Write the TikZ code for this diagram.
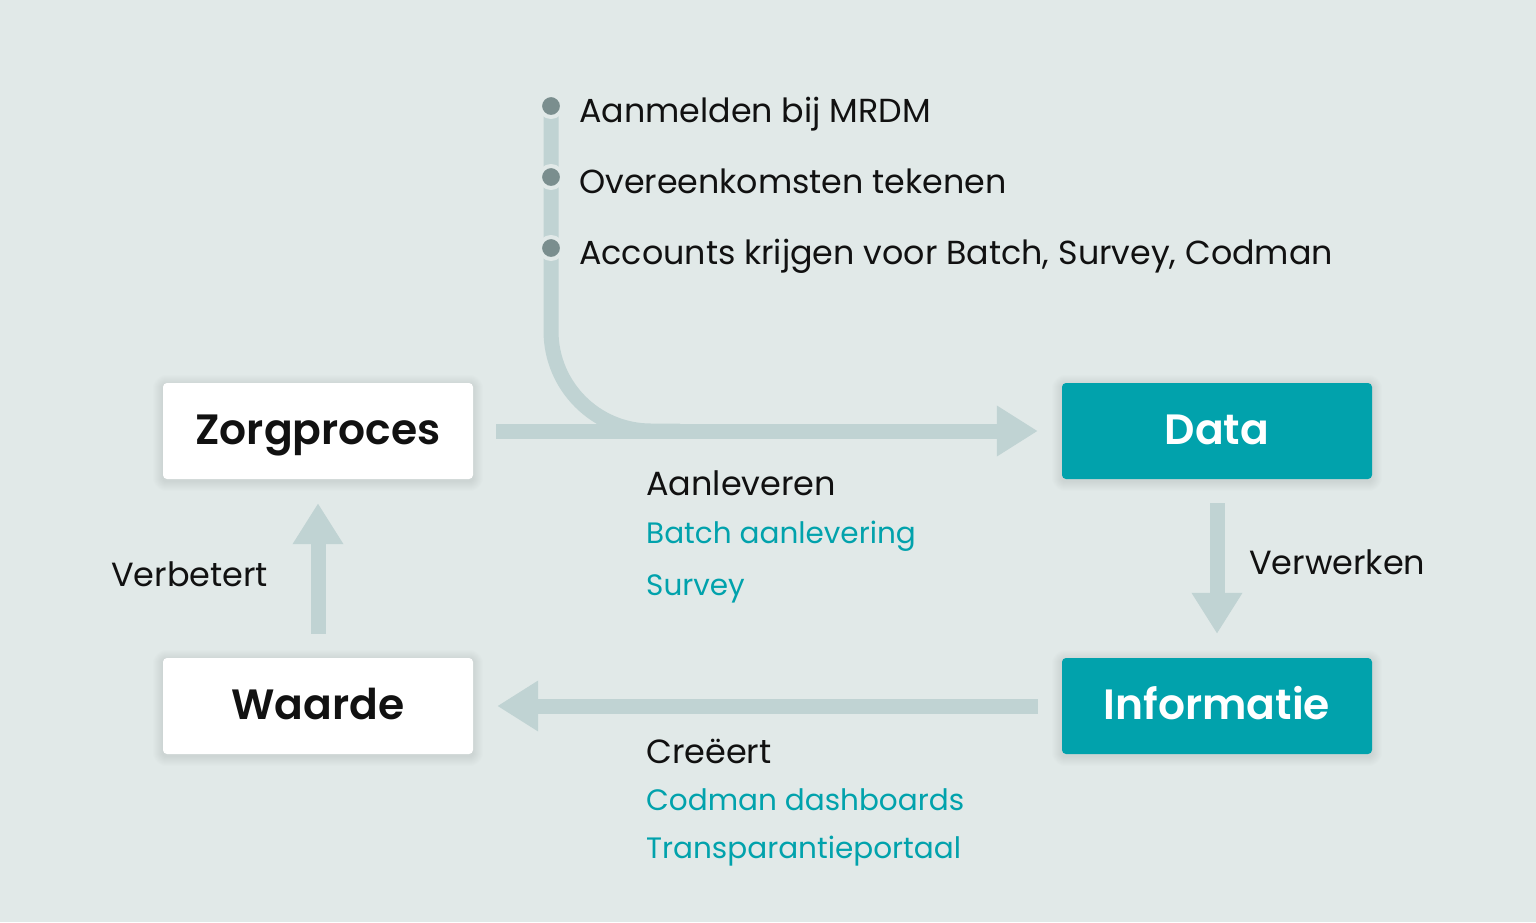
\documentclass[tikz,border=0pt]{standalone}
\usepackage{fontspec}
\setmainfont{Poppins}
\newfontfamily\semib{Poppins SemiBold}
\usetikzlibrary{arrows.meta}
\pgfdeclarelayer{bglayer}
\pgfdeclarelayer{shadowlayer}
\pgfsetlayers{bglayer,shadowlayer,main}
\definecolor{bg}{HTML}{E1E9E8}
\definecolor{arr}{HTML}{C0D3D3}
\definecolor{teal}{HTML}{01A2AC}
\definecolor{dot}{HTML}{7A8E8E}
\definecolor{ink}{HTML}{111111}
\tikzset{
  box/.style={rounded corners=4pt, minimum width=310pt, minimum height=96pt, inner sep=0pt,
    text height=26pt, text depth=0pt,
    font=\fontsize{42.4}{48}\semib},
  whitebox/.style={box, fill=white, text=ink},
  tealbox/.style={box, fill=teal, text=white},
  bigarrow/.style={draw=arr, line width=15pt, -{Triangle[length=41pt,width=48pt]}},
  toplbl/.style={anchor=base west, inner sep=0pt, text=ink, font=\fontsize{33.3}{40}\selectfont},
  lbl/.style={anchor=base west, inner sep=0pt, text=ink, font=\fontsize{33.5}{40}\selectfont},
  sublbl/.style={anchor=base west, inner sep=0pt, text=teal, font=\fontsize{29.5}{35}\selectfont},
  stepdot/.style={circle, fill=dot, draw=bg, line width=4pt, minimum size=22pt, inner sep=0pt},
  softshadow/.style={fill=black, opacity=0.008},
}
\begin{document}
\begin{tikzpicture}[x=1pt,y=-1pt]
\begin{pgfonlayer}{bglayer}
\fill[bg] (0,0) rectangle (1536,922);
\end{pgfonlayer}
\useasboundingbox (0,0) rectangle (1536,922);
% boxes
\node[whitebox] (z) at (318,431) {Zorgproces};
\node[whitebox] (w) at (318,706) {Waarde};
\node[tealbox] (d) at (1217,431) {Data};
\node[tealbox] (i) at (1217,706) {Informatie};
% soft shadows
\begin{pgfonlayer}{shadowlayer}
\foreach \n in {z,w,d,i}{
  \foreach \k in {1,...,10}{
    \pgfmathsetmacro\rr{4+\k}
    \fill[softshadow, rounded corners=\rr pt]
      ([xshift=-\k pt, yshift=\k pt-2pt]\n.north west) rectangle ([xshift=\k pt, yshift=-\k pt-2pt]\n.south east);
  }
}
\end{pgfonlayer}
% steps line
\coordinate (s0) at (551,106);
\coordinate (join) at (680,431);
\draw[arr, line width=15pt, rounded corners=100pt] (s0) |- (join);
% main arrows
\draw[bigarrow, shorten <=23pt, shorten >=24pt] (z.east) -- (d.west);
\draw[bigarrow, shorten <=24pt, shorten >=24pt] (d.south) -- (i.north);
\draw[bigarrow, shorten <=24pt, shorten >=24pt] (i.west) -- (w.east);
\draw[bigarrow, shorten <=24pt, shorten >=24pt] (w.north) -- (z.south);
% dots
\node[stepdot] (d1) at (551,106) {};
\node[stepdot] (d2) at (551,177) {};
\node[stepdot] (d3) at (551,248) {};
\node[toplbl] (t1) at (579,122) {Aanmelden bij MRDM};
\node[toplbl] (t2) at (579,193) {Overeenkomsten tekenen};
\node[toplbl] (t3) at (579,264) {Accounts krijgen voor Batch, Survey, Codman};
% labels
\node[lbl] (a1) at (646,495) {Aanleveren};
\node[sublbl] (a2) at (646,543) {Batch aanlevering};
\node[sublbl] (a3) at (646,595) {Survey};
\node[lbl] (v1) at (1249,574) {Verwerken};
\node[lbl] (v2) at (111,586) {Verbetert};
\node[lbl] (c1) at (646,763) {Creëert};
\node[sublbl] (c2) at (646,810) {Codman dashboards};
\node[sublbl] (c3) at (646,858) {Transparantieportaal};
\end{tikzpicture}
\end{document}
